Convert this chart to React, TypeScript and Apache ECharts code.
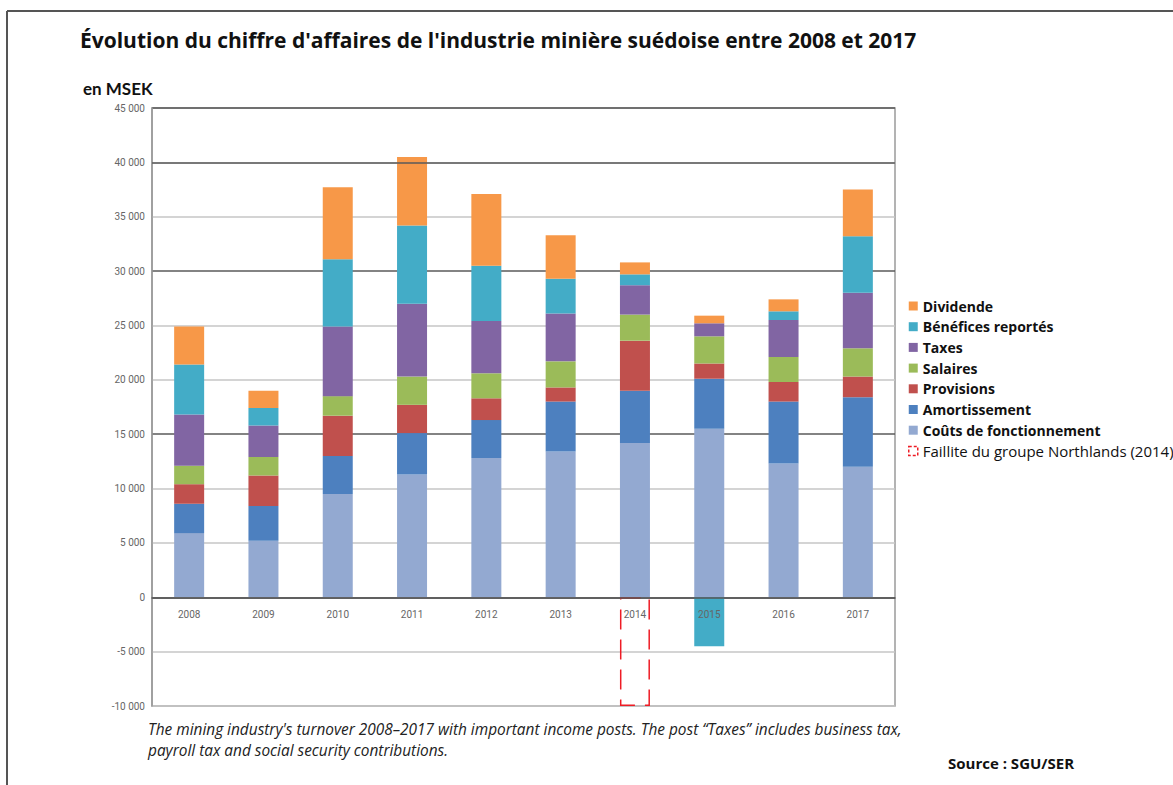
import React, { useEffect, useRef } from "react";
import * as echarts from "echarts";

const years = ["2008", "2009", "2010", "2011", "2012", "2013", "2014", "2015", "2016", "2017"];
const couts = [5900, 5200, 9500, 11300, 12800, 13400, 14200, 15500, 12300, 12000];
const amortissement = [2700, 3200, 3500, 3800, 3500, 4600, 4800, 4600, 5700, 6400];
const provisions = [1800, 2800, 3700, 2600, 2000, 1300, 4600, 1400, 1800, 1900];
const salaires = [1700, 1700, 1800, 2600, 2300, 2400, 2400, 2500, 2300, 2600];
const taxes = [4700, 2900, 6400, 6700, 4800, 4400, 2700, 1200, 3400, 5100];
const benefices = [4600, 1600, 6200, 7200, 5100, 3200, 1000, -4500, 800, 5200];
const dividende = [3500, 1600, 6600, 6300, 6600, 4000, 1100, 700, 1100, 4300];
const faillite = [null, null, null, null, null, null, -10000, null, null, null];

const yMin = -10000;
const yMax = 45000;
const yStep = 5000;

const FAILLITE = "Faillite du groupe Northlands (2014)";

const seriesDefs = [
  { name: "Coûts de fonctionnement", data: couts, color: "#93A9D1" },
  { name: "Amortissement", data: amortissement, color: "#4D80BF" },
  { name: "Provisions", data: provisions, color: "#C0504D" },
  { name: "Salaires", data: salaires, color: "#9BBB59" },
  { name: "Taxes", data: taxes, color: "#8165A3" },
  { name: "Bénéfices reportés", data: benefices, color: "#43ACC7" },
  { name: "Dividende", data: dividende, color: "#F79848" },
];

const fmt = (v: number) => {
  const s = Math.abs(v).toString().replace(/\B(?=(\d{3})+(?!\d))/g, " ");
  return (v < 0 ? "-" : "") + s;
};

const GRID_TOP = 108;
const GRID_BOTTOM = 79;
const H = 785;

export default function App() {
  const ref = useRef<HTMLDivElement>(null);
  useEffect(() => {
    if (!ref.current) return;
    const chart = echarts.init(ref.current, null, { renderer: "svg" });
    const lato = "Lato, 'Noto Sans', sans-serif";
    const open = "'Open Sans', 'Noto Sans', sans-serif";
    const plotH = H - GRID_TOP - GRID_BOTTOM;
    const zeroOffset = -(plotH * (0 - yMin)) / (yMax - yMin);
    const series: any[] = seriesDefs.map((s, i) => ({
      type: "bar",
      name: s.name,
      stack: "total",
      data: s.data,
      barWidth: 30,
      itemStyle: { color: s.color },
      ...(i === 0
        ? {
            markLine: {
              silent: true,
              symbol: "none",
              label: { show: false },
              lineStyle: { color: "#5a5a5a", width: 1.5, type: "solid" },
              data: [{ yAxis: 40000 }],
            },
          }
        : {}),
    }));
    series.push({
      type: "bar",
      name: FAILLITE,
      stack: "total",
      data: faillite,
      barWidth: 30,
      z: 4,
      itemStyle: {
        color: "rgba(255,255,255,0)",
        borderColor: "#EE1C25",
        borderWidth: 1.5,
        borderType: [20, 10],
      },
    });
    const legendOrder = [
      "Dividende",
      "Bénéfices reportés",
      "Taxes",
      "Salaires",
      "Provisions",
      "Amortissement",
      "Coûts de fonctionnement",
    ];
    const legendData: any[] = legendOrder.map((n) => ({ name: n }));
    legendData.push({
      name: FAILLITE,
      textStyle: { fontWeight: "normal", fontSize: 15 },
      itemStyle: {
        color: "#ffffff",
        borderColor: "#EE1C25",
        borderWidth: 1.5,
        borderType: [3, 2],
      },
    });
    chart.setOption({
      animation: false,
      backgroundColor: "#ffffff",
      grid: {
        left: 152,
        right: 278,
        top: GRID_TOP,
        bottom: GRID_BOTTOM,
        show: true,
        borderColor: "#9a9a9a",
        borderWidth: 1.5,
      },
      legend: {
        orient: "vertical",
        left: 908,
        top: 298,
        icon: "rect",
        itemWidth: 9,
        itemHeight: 9,
        itemGap: 4.7,
        padding: 0,
        data: legendData,
        textStyle: {
          fontFamily: open,
          fontWeight: "bold",
          fontSize: 14,
          lineHeight: 16,
          color: "#111",
        },
      },
      xAxis: {
        type: "category",
        data: years,
        z: 5,
        offset: zeroOffset,
        axisLine: { show: true, onZero: false, lineStyle: { color: "#555", width: 1.5 } },
        axisTick: { show: false },
        axisLabel: {
          margin: 12,
          fontFamily: "Roboto, sans-serif",
          fontSize: 10,
          color: "#666",
        },
      },
      yAxis: {
        type: "value",
        min: yMin,
        max: yMax,
        interval: yStep,
        axisLine: { show: true, lineStyle: { color: "#9a9a9a", width: 1.5 } },
        axisTick: { show: false },
        axisLabel: {
          margin: 7,
          fontFamily: "Roboto, sans-serif",
          fontSize: 10,
          color: "#666",
          formatter: (v: number) => fmt(v),
        },
        splitLine: {
          show: true,
          lineStyle: { color: ["#c6c6c6", "#c6c6c6", "#5a5a5a"], width: 1.5 },
        },
      },
      series,
      graphic: [
        {
          type: "line",
          shape: { x1: 7, y1: 11, x2: 1173, y2: 11 },
          style: { stroke: "#555", lineWidth: 2 },
        },
        {
          type: "line",
          shape: { x1: 7, y1: 11, x2: 7, y2: 785 },
          style: { stroke: "#555", lineWidth: 2 },
        },
        {
          type: "text",
          x: 80,
          y: 40,
          style: {
            text: "Évolution du chiffre d'affaires de l'industrie minière suédoise entre 2008 et 2017",
            font: `bold 21px ${open}`,
            fill: "#111",
            verticalAlign: "middle",
          },
        },
        {
          type: "text",
          x: 83,
          y: 88,
          style: {
            text: "en MSEK",
            font: `bold 17px ${lato}`,
            fill: "#111",
            verticalAlign: "middle",
          },
        },
        {
          type: "text",
          x: 148,
          y: 729,
          style: {
            text: "The mining industry's turnover 2008–2017 with important income posts. The post “Taxes” includes business tax,",
            font: `italic 15.4px ${open}`,
            fill: "#222",
            verticalAlign: "middle",
          },
        },
        {
          type: "text",
          x: 148,
          y: 750,
          style: {
            text: "payroll tax and social security contributions.",
            font: `italic 15.4px ${open}`,
            fill: "#222",
            verticalAlign: "middle",
          },
        },
        {
          type: "text",
          x: 948,
          y: 763,
          style: {
            text: "Source : SGU/SER",
            font: `bold 15px ${open}`,
            fill: "#111",
            verticalAlign: "middle",
          },
        },
      ],
    });
    return () => chart.dispose();
  }, []);
  return (
    <div
      ref={ref}
      style={{ position: "absolute", left: 0, top: 0, width: 1173, height: 785 }}
    />
  );
}
